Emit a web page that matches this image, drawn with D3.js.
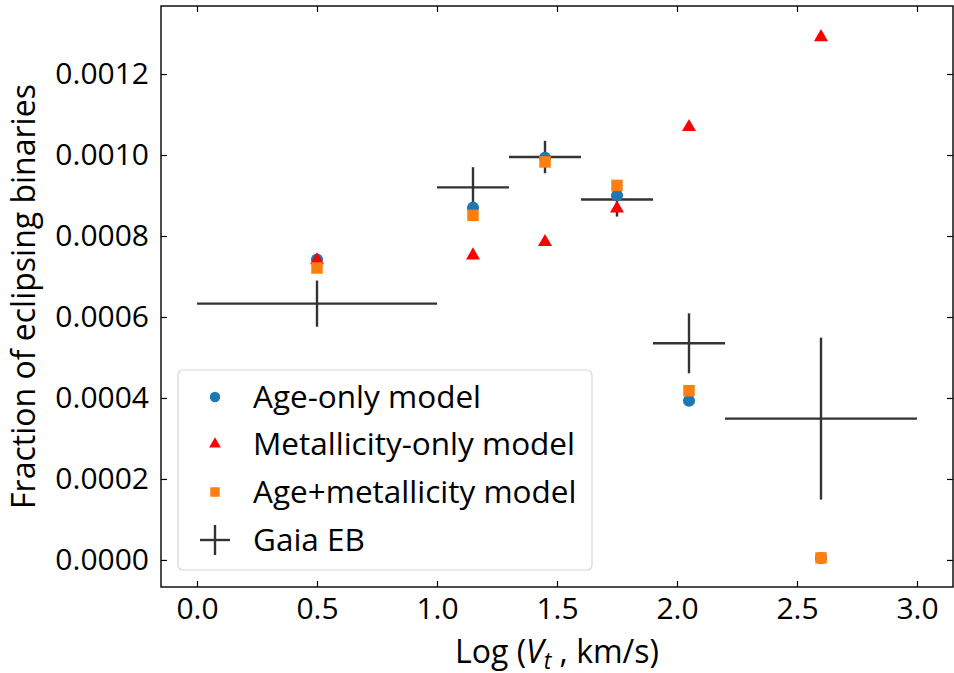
<!DOCTYPE html>
<html>
<head>
<meta charset="utf-8">
<script src="https://cdn.jsdelivr.net/npm/d3@7"></script>
<style>
  body { margin: 0; background: #fff; }
  text { font-family: "Open Sans", "Noto Sans", sans-serif; fill: #000; }
</style>
</head>
<body>
<script>
// bins in log(Vt)
var binX = [0.5, 1.15, 1.45, 1.75, 2.05, 2.6];
var binHalfWidth = [0.5, 0.15, 0.15, 0.15, 0.15, 0.4];

// model fractions
var ageOnly = [0.000742, 0.000870, 0.000993, 0.000900, 0.000393, 0.000005];
var metalOnly = [0.000740, 0.000752, 0.000785, 0.000868, 0.001069, 0.001291];
var ageMetal = [0.000721, 0.000851, 0.000983, 0.000925, 0.000418, 0.000005];

// observed Gaia EB fraction and error
var gaiaY = [0.000633, 0.000920, 0.000995, 0.000890, 0.000535, 0.000349];
var gaiaErr = [0.000057, 0.000050, 0.000040, 0.000042, 0.000074, 0.000200];

var xTicks = [0, 0.5, 1, 1.5, 2, 2.5, 3];
var yTicks = [0, 0.0002, 0.0004, 0.0006, 0.0008, 0.0010, 0.0012];

var legendLabels = ["Age-only model", "Metallicity-only model", "Age+metallicity model", "Gaia EB"];

var width = 954, height = 673;
var margin = {left: 161, right: 1, top: 6, bottom: 86};
var w = width - margin.left - margin.right;
var h = height - margin.top - margin.bottom;

var x = d3.scaleLinear().domain([-0.15, 3.15]).range([0, w]);
var y = d3.scaleLinear().domain([-0.0000668, 0.001368]).range([h, 0]);

var svg = d3.select("body").append("svg")
    .attr("width", width)
    .attr("height", height);

var g = svg.append("g")
    .attr("transform", "translate(" + margin.left + "," + margin.top + ")");

// axes, ticks pointing inwards
var axBottom = g.append("g").attr("transform", "translate(0," + h + ")")
    .call(d3.axisBottom(x).tickValues(xTicks).tickSizeInner(-6).tickSizeOuter(0).tickPadding(11)
      .tickFormat(d3.format(".1f")));
var axLeft = g.append("g")
    .call(d3.axisLeft(y).tickValues(yTicks).tickSizeInner(-6).tickSizeOuter(0).tickPadding(12)
      .tickFormat(d3.format(".4f")));
var axTop = g.append("g")
    .call(d3.axisTop(x).tickValues(xTicks).tickSizeInner(-6).tickSizeOuter(0).tickFormat(""));
var axRight = g.append("g").attr("transform", "translate(" + w + ",0)")
    .call(d3.axisRight(y).tickValues(yTicks).tickSizeInner(-6).tickSizeOuter(0).tickFormat(""));

[axBottom, axLeft, axTop, axRight].forEach(function(a) {
  a.select(".domain").remove();
  a.selectAll(".tick line").attr("stroke", "#000").attr("stroke-width", 1.2);
  a.selectAll(".tick text").attr("font-size", 30).attr("font-family", "Open Sans");
});

g.append("rect")
    .attr("width", w).attr("height", h)
    .attr("fill", "none").attr("stroke", "#000").attr("stroke-width", 1.4);

// error bars for Gaia EB
var errColor = "#333333";
var eb = g.append("g").selectAll("g").data(binX).enter().append("g");
eb.append("line")
    .attr("x1", function(d, i) { return x(d - binHalfWidth[i]); })
    .attr("x2", function(d, i) { return x(d + binHalfWidth[i]); })
    .attr("y1", function(d, i) { return y(gaiaY[i]); })
    .attr("y2", function(d, i) { return y(gaiaY[i]); })
    .attr("stroke", errColor).attr("stroke-width", 2.4);
eb.append("line")
    .attr("x1", function(d) { return x(d); })
    .attr("x2", function(d) { return x(d); })
    .attr("y1", function(d, i) { return y(gaiaY[i] - gaiaErr[i]); })
    .attr("y2", function(d, i) { return y(gaiaY[i] + gaiaErr[i]); })
    .attr("stroke", errColor).attr("stroke-width", 2.4);

// markers
var circle = d3.symbol().type(d3.symbolCircle).size(115);
var tri = d3.symbol().type(d3.symbolTriangle).size(85);
var square = d3.symbol().type(d3.symbolSquare).size(132);

function drawSeries(vals, sym, color) {
  g.append("g").selectAll("path").data(binX).enter().append("path")
    .attr("d", sym)
    .attr("transform", function(d, i) { return "translate(" + x(d) + "," + y(vals[i]) + ")"; })
    .attr("fill", color);
}
drawSeries(ageOnly, circle, "#1f77b4");
drawSeries(metalOnly, tri, "#ff0000");
drawSeries(ageMetal, square, "#ff7f0e");

// legend
var lg = svg.append("g").attr("transform", "translate(178,370)");
lg.append("rect")
    .attr("width", 414).attr("height", 200).attr("rx", 5)
    .attr("fill", "#fff").attr("fill-opacity", 0.8)
    .attr("stroke", "#d6d6d6").attr("stroke-width", 1.2);
var rowY = [27, 74, 122, 170];
var legSyms = [
  [d3.symbol().type(d3.symbolCircle).size(85), "#1f77b4"],
  [d3.symbol().type(d3.symbolTriangle).size(60), "#ff0000"],
  [d3.symbol().type(d3.symbolSquare).size(90), "#ff7f0e"]
];
legSyms.forEach(function(s, i) {
  lg.append("path").attr("d", s[0]()).attr("fill", s[1])
    .attr("transform", "translate(37," + rowY[i] + ")");
});
lg.append("line").attr("x1", 22).attr("x2", 52).attr("y1", rowY[3]).attr("y2", rowY[3])
    .attr("stroke", errColor).attr("stroke-width", 2.4);
lg.append("line").attr("x1", 37).attr("x2", 37).attr("y1", rowY[3] - 15).attr("y2", rowY[3] + 15)
    .attr("stroke", errColor).attr("stroke-width", 2.4);
lg.selectAll("text.lab").data(legendLabels).enter().append("text")
    .attr("class", "lab")
    .attr("x", 75).attr("y", function(d, i) { return rowY[i]; })
    .attr("dy", "0.35em")
    .attr("font-size", 31.5)
    .text(function(d) { return d; });

// axis labels
var xl = svg.append("text")
    .attr("x", margin.left + w / 2).attr("y", 663)
    .attr("text-anchor", "middle").attr("font-size", 32);
xl.append("tspan").text("Log (");
xl.append("tspan").attr("font-style", "italic").text("V");
xl.append("tspan").attr("font-style", "italic").attr("font-size", 23).attr("dy", 6).text("t");
xl.append("tspan").attr("dy", -6).text(" , km/s)");

svg.append("text")
    .attr("transform", "translate(35," + (margin.top + h / 2) + ") rotate(-90)")
    .attr("text-anchor", "middle").attr("font-size", 32)
    .text("Fraction of eclipsing binaries");
</script>
</body>
</html>
